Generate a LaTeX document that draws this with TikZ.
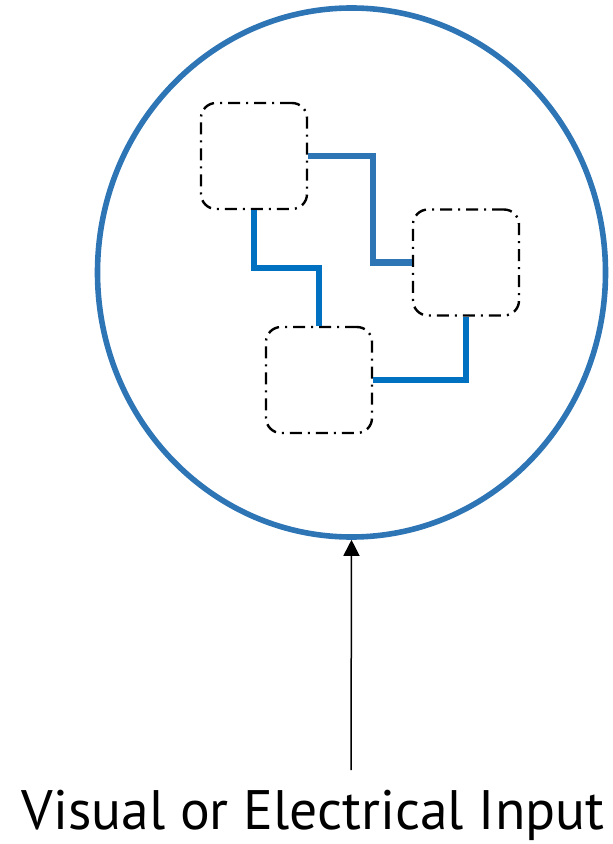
\documentclass[tikz,border=0pt]{standalone}
\usepackage{fontspec}
\setmainfont{PT Sans}
\usetikzlibrary{arrows.meta,shapes.geometric,calc}
\definecolor{cRing}{HTML}{2E75B6}
\definecolor{cWire}{HTML}{0070C0}
\definecolor{cInk}{HTML}{000000}
\tikzset{
  x=0.5pt, y=-0.5pt,
  every node/.style={text=cInk},
  ring/.style={ellipse, draw=cRing, line width=2.8pt, inner sep=0pt, minimum width=254pt, minimum height=264.5pt},
  unit/.style={draw=cInk, line width=1.2pt, rounded corners=7.5pt, minimum width=53pt, minimum height=53pt, inner sep=0pt,
     dash pattern=on 6pt off 3pt on 1pt off 3pt},
  wire/.style={draw=cWire, line width=3.4pt},
  wireb/.style={wire, draw=cRing},
  arr/.style={-{Triangle[length=8pt,width=8pt]}, line width=0.75pt, draw=cInk},
}
\begin{document}
\begin{tikzpicture}
\useasboundingbox (0,0) rectangle (613,844);
\node[ring] (cell) at (351.5,272.5) {};
% the three units
\node[unit] (u1) at (254,156) {};
\node[unit] (u2) at (466,262.5) {};
\node[unit] (u3) at (319,380) {};
% wiring
\coordinate (k1) at (373,0);
\coordinate (k2) at (0,268);
\draw[wireb] (u1.east) -- (u1.east -| k1) |- (u2.west);
\draw[wire] (u1.south) -- (u1.south |- k2) -| (u3.north);
\draw[wire] (u2.south) |- (u3.east);
% input
\node[font=\fontsize{27.8}{32}\selectfont, anchor=base] (lbl) at (313,829) {Visual or Electrical Input};
\coordinate (src) at (351,770);
\draw[arr] (src) -- (cell.south);
\end{tikzpicture}
\end{document}
